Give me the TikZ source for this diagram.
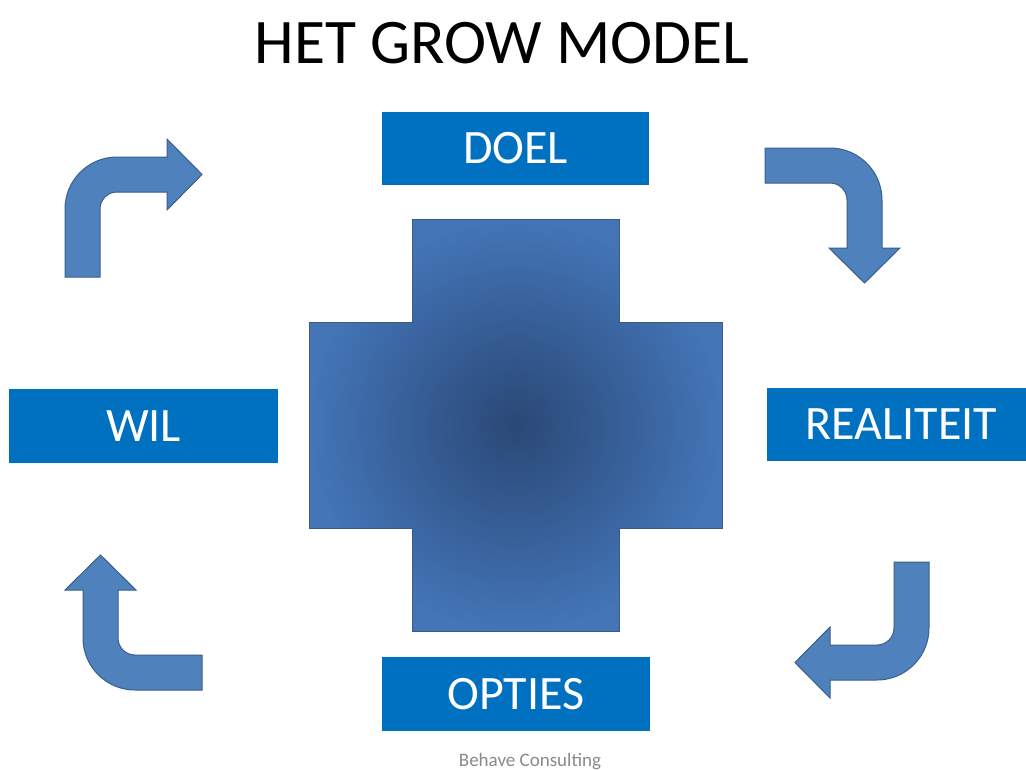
\documentclass[tikz,border=0pt]{standalone}
\usepackage{fontspec}
\setmainfont{Carlito}
\definecolor{boxblue}{HTML}{0070C0}
\definecolor{arrowfill}{HTML}{4F81BD}
\definecolor{arrowline}{HTML}{3A5F8C}
\definecolor{crossin}{HTML}{2A4876}
\definecolor{crossout}{HTML}{4375B7}
\definecolor{crossline}{HTML}{3B5A85}
\definecolor{footgray}{HTML}{8A8A8A}
\tikzset{
  labelbox/.style={fill=boxblue, draw=none, text=white, inner sep=0pt,
    font=\fontsize{48}{56}\selectfont},
  bentarrow/.style={fill=arrowfill, draw=arrowline, line width=1pt, line join=miter},
  crossshape/.style={shading=radial, inner color=crossin, outer color=crossout,
    draw=crossline, line width=1pt},
}
\begin{document}
\begin{tikzpicture}[x=1pt,y=-1pt]
\useasboundingbox (0,0) rectangle (1026,769);
\fill[white] (0,0) rectangle (1026,769);
\clip (0,0) rectangle (1026,769);

% title
\node[anchor=base, inner sep=0pt, font=\fontsize{63.5}{76}\selectfont] (title) at (502,63) {HET GROW MODEL};

% central cross
\path[crossshape] (412,219) -- (619,219) -- (619,322) -- (722,322) -- (722,528)
  -- (619,528) -- (619,631) -- (412,631) -- (412,528) -- (309,528) -- (309,322)
  -- (412,322) -- cycle;

% label boxes
\node[labelbox, minimum width=267pt, minimum height=73pt] (doel) at (515.5,148.5) {DOEL};
\node[labelbox, minimum width=269pt, minimum height=74pt] (wil) at (143.5,426) {WIL};
\node[labelbox, minimum width=269pt, minimum height=73pt] (realiteit) at (901.5,424.5) {REALITEIT};
\node[labelbox, minimum width=268pt, minimum height=74pt] (opties) at (516,694) {OPTIES};

% bent arrows
% upper left
\path[bentarrow] (65,277) -- (65,209) .. controls (65,180.3) and (88.3,157) .. (117,157)
  -- (167,157) -- (167,139) -- (202,174.5) -- (167,210) -- (167,192) -- (117,192)
  .. controls (107.6,192) and (100,199.6) .. (100,209) -- (100,277) -- cycle;
% upper right
\path[bentarrow] (765,148) -- (830,148) .. controls (858.7,148) and (882,171.3) .. (882,200)
  -- (882,248) -- (900,248) -- (864.5,283) -- (829,248) -- (847,248) -- (847,200)
  .. controls (847,190.6) and (839.4,183) .. (830,183) -- (765,183) -- cycle;
% lower left
\path[bentarrow] (202,655) -- (135,655) .. controls (125.6,655) and (118,647.4) .. (118,638)
  -- (118,590) -- (136,590) -- (100.5,555) -- (65,590) -- (83,590) -- (83,638)
  .. controls (83,666.7) and (106.3,690) .. (135,690) -- (202,690) -- cycle;
% lower right
\path[bentarrow] (894,562) -- (929,562) -- (929,628) .. controls (929,656.7) and (905.7,680) .. (877,680)
  -- (830,680) -- (830,698) -- (795,662.5) -- (830,627) -- (830,645) -- (877,645)
  .. controls (886.4,645) and (894,637.4) .. (894,628) -- cycle;

% footer
\node[anchor=base, inner sep=0pt, text=footgray, font=\fontsize{19}{22}\selectfont] (footer) at (530,766) {Behave Consulting};
\end{tikzpicture}
\end{document}
